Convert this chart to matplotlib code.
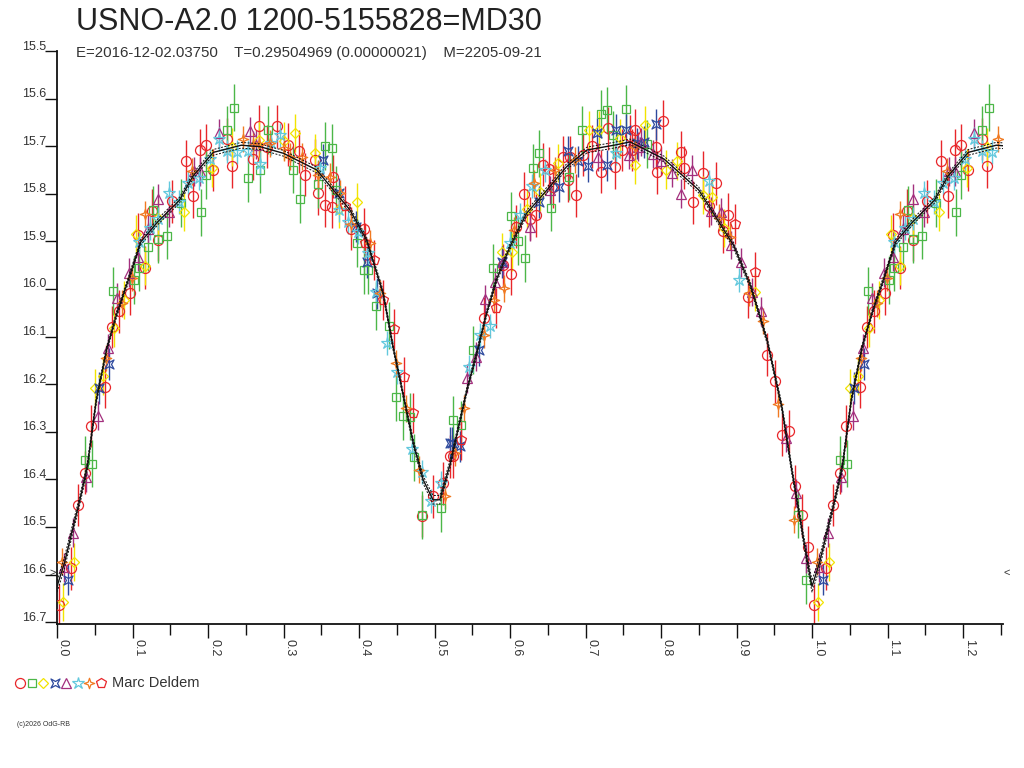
import numpy as np
import matplotlib
matplotlib.use("Agg")
import matplotlib.pyplot as plt
from matplotlib.path import Path
from matplotlib.lines import Line2D
from matplotlib import transforms

plt.rcParams['font.family'] = ['Liberation Sans', 'DejaVu Sans']

TITLE = "USNO-A2.0 1200-5155828=MD30"
SUBTITLE = "E=2016-12-02.03750    T=0.29504969 (0.00000021)    M=2205-09-21"
OBSERVER = "Marc Deldem"
COPYRIGHT = "(c)2026 OdG-RB"

ytick_values = [15.5, 15.6, 15.7, 15.8, 15.9, 16.0, 16.1, 16.2, 16.3, 16.4, 16.5, 16.6, 16.7]
ytick_labels = ["15.5", "15.6", "15.7", "15.8", "15.9", "16.0", "16.1", "16.2", "16.3", "16.4", "16.5", "16.6", "16.7"]
xtick_values = [0.0, 0.1, 0.2, 0.3, 0.4, 0.5, 0.6, 0.7, 0.8, 0.9, 1.0, 1.1, 1.2]
xtick_labels = ["0.0", "0.1", "0.2", "0.3", "0.4", "0.5", "0.6", "0.7", "0.8", "0.9", "1.0", "1.1", "1.2"]
xminor_values = [0.05, 0.15, 0.25, 0.35, 0.45, 0.55, 0.65, 0.75, 0.85, 0.95, 1.05, 1.15, 1.25]

# fitted light curve (phase, magnitude) and its band half-width
model_ph = [0, 0.01, 0.02, 0.03, 0.04, 0.052, 0.066, 0.079, 0.093, 0.111, 0.134, 0.162, 0.18, 0.207,
            0.244, 0.269, 0.3, 0.344, 0.388, 0.41, 0.432, 0.445, 0.459, 0.472, 0.485, 0.498, 0.507,
            0.521, 0.534, 0.543, 0.556, 0.569, 0.582, 0.6, 0.622, 0.649, 0.675, 0.702, 0.741, 0.759,
            0.804, 0.85, 0.896, 0.919, 0.941, 0.96, 0.973, 0.985, 0.993, 1.0]
model_mag = [16.625, 16.575, 16.509, 16.445, 16.375, 16.234, 16.125, 16.053, 15.988, 15.901, 15.858,
             15.814, 15.763, 15.713, 15.698, 15.701, 15.715, 15.75, 15.834, 15.897, 16.009, 16.121,
             16.226, 16.324, 16.401, 16.443, 16.443, 16.366, 16.275, 16.212, 16.135, 16.051, 15.981,
             15.911, 15.841, 15.792, 15.743, 15.708, 15.697, 15.691, 15.727, 15.792, 15.908, 15.995,
             16.111, 16.248, 16.378, 16.49, 16.565, 16.625]
model_band = [0.012, 0.012, 0.01, 0.009, 0.008, 0.007, 0.006, 0.006, 0.006, 0.006, 0.006, 0.006, 0.006,
              0.006, 0.006, 0.006, 0.006, 0.006, 0.006, 0.006, 0.006, 0.006, 0.006, 0.007, 0.008, 0.009,
              0.009, 0.008, 0.007, 0.006, 0.006, 0.006, 0.006, 0.006, 0.006, 0.006, 0.006, 0.006, 0.006,
              0.006, 0.006, 0.006, 0.006, 0.006, 0.006, 0.007, 0.008, 0.009, 0.011, 0.012]

# red circles
circ_ph = [0.002, 0.018, 0.028, 0.037, 0.045, 0.064, 0.073, 0.082, 0.097, 0.117, 0.107, 0.134, 0.126,
           0.152, 0.180, 0.171, 0.189, 0.197, 0.206, 0.232, 0.260, 0.225,
           0.268, 0.291, 0.278, 0.306, 0.320, 0.328, 0.346, 0.355, 0.364, 0.366, 0.342, 0.406, 0.390,
           0.498, 0.484, 0.511, 0.521, 0.525, 0.565, 0.591, 0.601, 0.608, 0.618, 0.626, 0.635, 0.644,
           0.652, 0.657, 0.670, 0.677, 0.687, 0.679, 0.697, 0.708, 0.721, 0.730, 0.739, 0.749, 0.759,
           0.766, 0.761, 0.802, 0.795, 0.793, 0.827, 0.830, 0.843, 0.855, 0.873, 0.864, 0.889, 0.882,
           0.915, 0.941, 0.951, 0.960, 0.969, 0.978, 0.987, 0.995]
circ_mag = [16.664, 16.587, 16.454, 16.386, 16.288, 16.205, 16.080, 16.047, 16.009, 15.955, 15.886, 15.897,
            15.836, 15.816, 15.805, 15.731, 15.709, 15.698, 15.750, 15.742, 15.727, 15.685,
            15.658, 15.658, 15.701, 15.697, 15.711, 15.760, 15.799, 15.824, 15.827, 15.764, 15.729, 15.875,
            15.873, 16.436, 16.477, 16.408, 16.352, 16.352, 16.062, 15.950, 15.968, 15.869, 15.800, 15.852,
            15.845, 15.739, 15.747, 15.785, 15.723, 15.772, 15.803, 15.723, 15.718, 15.700, 15.754, 15.662,
            15.744, 15.708, 15.679, 15.667, 15.708, 15.648, 15.755, 15.702, 15.713, 15.745, 15.818, 15.756,
            15.778, 15.825, 15.844, 15.879, 16.017, 16.138, 16.194, 16.306, 16.299, 16.415, 16.476, 16.543]
circ_err = 0.045

# red pentagons
pent_ph = [0.381, 0.408, 0.420, 0.432, 0.446, 0.459, 0.471, 0.535, 0.581, 0.898, 0.924]
pent_mag = [15.826, 15.904, 15.939, 16.023, 16.085, 16.186, 16.260, 16.317, 16.041, 15.863, 15.964]
pent_err = 0.042

# green squares
sq_ph = [0.235, 0.225, 0.253, 0.269, 0.191, 0.198, 0.146, 0.134, 0.127, 0.120, 0.109, 0.102, 0.074,
         0.037, 0.047, 0.164, 0.313, 0.322, 0.355, 0.364, 0.280, 0.346, 0.370, 0.397, 0.406, 0.412,
         0.422, 0.440, 0.449, 0.458, 0.467, 0.473, 0.484, 0.508, 0.525, 0.535, 0.551, 0.577, 0.601,
         0.611, 0.620, 0.630, 0.638, 0.654, 0.678, 0.696, 0.721, 0.729, 0.754, 0.737, 0.781, 0.992, 0.982]
sq_mag = [15.619, 15.666, 15.767, 15.749, 15.839, 15.760, 15.888, 15.895, 15.834, 15.912, 15.955, 15.981,
          16.004, 16.360, 16.367, 15.819, 15.749, 15.812, 15.699, 15.703, 15.666, 15.780, 15.792, 15.904,
          15.961, 15.961, 16.036, 16.077, 16.228, 16.267, 16.268, 16.354, 16.475, 16.461, 16.275, 16.286,
          16.128, 15.955, 15.847, 15.899, 15.936, 15.745, 15.715, 15.829, 15.764, 15.666, 15.632, 15.625,
          15.622, 15.676, 15.695, 16.611, 16.474]
sq_err = 0.05

# yellow diamonds
dia_ph = [0.008, 0.022, 0.050, 0.061, 0.075, 0.089, 0.105, 0.117, 0.168, 0.134, 0.205, 0.232, 0.267,
          0.315, 0.300, 0.342, 0.398, 0.373, 0.590, 0.603, 0.623, 0.640, 0.664, 0.704, 0.718, 0.746,
          0.766, 0.779, 0.807, 0.821, 0.855, 0.868, 0.884, 0.924]
dia_mag = [16.657, 16.573, 16.208, 16.183, 16.082, 16.024, 15.885, 15.952, 15.839, 15.850, 15.745, 15.702,
           15.688, 15.673, 15.690, 15.715, 15.817, 15.831, 15.922, 15.922, 15.831, 15.796, 15.736, 15.666,
           15.666, 15.683, 15.740, 15.655, 15.749, 15.731, 15.803, 15.807, 15.872, 16.006]
dia_err = 0.04

# blue concave squares
bsq_ph = [0.015, 0.056, 0.069, 0.352, 0.374, 0.396, 0.410, 0.424, 0.520, 0.523, 0.534, 0.559, 0.590,
          0.639, 0.665, 0.677, 0.690, 0.703, 0.715, 0.728, 0.740, 0.754, 0.768, 0.793, 0.777]
bsq_mag = [16.611, 16.208, 16.158, 15.729, 15.799, 15.869, 15.943, 16.009, 16.324, 16.324, 16.331, 16.128,
           15.943, 15.817, 15.785, 15.711, 15.732, 15.742, 15.673, 15.740, 15.666, 15.666, 15.694, 15.654,
           15.691]
bsq_err = 0.033

# purple triangles
tri_ph = [0.009, 0.021, 0.038, 0.054, 0.068, 0.079, 0.095, 0.107, 0.121, 0.134, 0.148, 0.182, 0.189,
          0.215, 0.256, 0.264, 0.543, 0.555, 0.567, 0.580, 0.591, 0.626, 0.653, 0.716, 0.758, 0.770,
          0.773, 0.789, 0.800, 0.814, 0.827, 0.841, 0.866, 0.880, 0.893, 0.906, 0.921, 0.933, 0.966,
          0.979, 0.992]
tri_mag = [16.585, 16.512, 16.396, 16.266, 16.125, 16.018, 15.966, 15.933, 15.873, 15.810, 15.839, 15.753,
           15.753, 15.673, 15.669, 15.697, 16.188, 16.142, 16.022, 15.985, 15.943, 15.869, 15.792, 15.723,
           15.718, 15.701, 15.691, 15.716, 15.731, 15.756, 15.800, 15.749, 15.836, 15.839, 15.908, 15.944,
           16.006, 16.047, 16.313, 16.429, 16.566]
tri_err = 0.03

# cyan stars
star_ph = [0.215, 0.202, 0.188, 0.174, 0.149, 0.162, 0.134, 0.123, 0.109, 0.225, 0.239, 0.253, 0.269,
           0.295, 0.284, 0.348, 0.373, 0.386, 0.399, 0.412, 0.423, 0.437, 0.450, 0.470, 0.483, 0.496,
           0.509, 0.574, 0.560, 0.546, 0.600, 0.613, 0.629, 0.646, 0.741, 0.863, 0.903]
star_mag = [15.685, 15.727, 15.767, 15.778, 15.798, 15.818, 15.852, 15.872, 15.901, 15.711, 15.713, 15.711,
            15.737, 15.676, 15.693, 15.746, 15.834, 15.859, 15.880, 15.925, 16.006, 16.114, 16.174, 16.337,
            16.384, 16.445, 16.407, 16.078, 16.097, 16.163, 15.904, 15.845, 15.784, 15.751, 15.715, 15.774,
            15.982]
star_err = 0.025

# orange four-point stars
cross_ph = [0.006, 0.065, 0.086, 0.099, 0.117, 0.179, 0.246, 0.267, 0.260, 0.282, 0.300, 0.309, 0.324,
            0.346, 0.362, 0.375, 0.390, 0.415, 0.428, 0.449, 0.462, 0.479, 0.514, 0.527, 0.539, 0.565,
            0.579, 0.592, 0.605, 0.632, 0.660, 0.686, 0.766, 0.877, 0.892, 0.916, 0.935, 0.955, 0.976]
cross_mag = [16.573, 16.145, 16.030, 15.977, 15.843, 15.753, 15.685, 15.695, 15.697, 15.694, 15.704, 15.722,
             15.722, 15.760, 15.764, 15.799, 15.863, 15.904, 16.009, 16.156, 16.251, 16.380, 16.435, 16.344,
             16.251, 16.097, 16.023, 15.999, 15.876, 15.778, 15.750, 15.729, 15.701, 15.850, 15.890, 16.008,
             16.067, 16.241, 16.485]
cross_err = 0.028

# custom marker shapes
concave_sq = Path([(-1, -1), (0, -0.45), (1, -1), (0.45, 0), (1, 1), (0, 0.45), (-1, 1), (-0.45, 0), (-1, -1)],
                  [Path.MOVETO] + [Path.LINETO] * 7 + [Path.CLOSEPOLY])
four_star = Path([(0, 1), (0.25, 0.25), (1, 0), (0.25, -0.25), (0, -1), (-0.25, -0.25), (-1, 0), (-0.25, 0.25), (0, 1)],
                 [Path.MOVETO] + [Path.LINETO] * 7 + [Path.CLOSEPOLY])

RED = '#e8262a'
series = [
    (circ_ph, circ_mag, circ_err, 'o', 7.2, RED),
    (sq_ph, sq_mag, sq_err, 's', 5.2, '#4cb748'),
    (dia_ph, dia_mag, dia_err, 'D', 5.6, '#f2e400'),
    (bsq_ph, bsq_mag, bsq_err, concave_sq, 6.5, '#2e4a9e'),
    (tri_ph, tri_mag, tri_err, '^', 6.8, '#a3307e'),
    (star_ph, star_mag, star_err, '*', 9.0, '#62c8dd'),
    (cross_ph, cross_mag, cross_err, four_star, 7.5, '#f07a22'),
    (pent_ph, pent_mag, pent_err, 'p', 7.5, RED),
]

W, H = 1024, 768
fig = plt.figure(figsize=(W / 100, H / 100), dpi=100)
ax = fig.add_axes([57 / W, 1 - 624 / H, (1003 - 57) / W, (624 - 51) / H])

XMAX = 946 / 755
ax.set_xlim(0, XMAX)
ax.set_ylim(16.704, 15.5)

for ph, mag, err, mk, ms, col in series:
    x = list(ph) + [p + 1 for p in ph if p <= XMAX - 1]
    y = list(mag) + [m for p, m in zip(ph, mag) if p <= XMAX - 1]
    ax.errorbar(x, y, yerr=err, fmt='none', ecolor=col, elinewidth=1.0, capsize=0, zorder=2)
    ax.plot(x, y, linestyle='none', marker=mk, ms=ms, mfc='none', mec=col, mew=0.9, zorder=3)

# model curve over 0..1.25
mx = list(model_ph) + [p + 1 for p in model_ph[1:] if p <= XMAX - 1 + 0.03]
my = list(model_mag) + [m for p, m in zip(model_ph[1:], model_mag[1:]) if p <= XMAX - 1 + 0.03]
mb = list(model_band) + [b for p, b in zip(model_ph[1:], model_band[1:]) if p <= XMAX - 1 + 0.03]
mx = np.array(mx); my = np.array(my); mb = np.array(mb)
ax.plot(mx, my, color='#111111', lw=1.0, zorder=5, clip_on=True)
ax.plot(mx, my - mb, color='#111111', lw=0.7, ls=(0, (2, 1.5)), zorder=5)
ax.plot(mx, my + mb, color='#111111', lw=0.7, ls=(0, (2, 1.5)), zorder=5)

for s in ['top', 'right']:
    ax.spines[s].set_visible(False)
for s in ['left', 'bottom']:
    ax.spines[s].set_linewidth(1.3)
    ax.spines[s].set_color('#111111')

ax.set_xticks(xtick_values)
ax.set_xticks(xminor_values, minor=True)
ax.set_xticklabels(xtick_labels, rotation=-90, ha='left', va='top', fontsize=9, color='#333333')
ax.tick_params(axis='x', which='major', length=10, width=1, direction='out', pad=1, color='#111111')
ax.tick_params(axis='x', which='minor', length=8, width=1, direction='out', color='#111111')

ax.set_yticks(ytick_values)
ax.tick_params(axis='y', which='major', length=9, width=1, direction='out', labelleft=False, color='#111111')
ylab_tr = transforms.offset_copy(ax.get_yaxis_transform(), fig=fig, x=-11, y=1.5, units='dots')
for v, lab in zip(ytick_values, ytick_labels):
    ax.text(0, v, lab, transform=ylab_tr, ha='right', va='baseline', fontsize=9, color='#333333', clip_on=False)

# range arrows
ax.text(0, 16.597, '>', transform=transforms.offset_copy(ax.get_yaxis_transform(), fig=fig, x=-1, y=0, units='dots'),
        ha='right', va='center', fontsize=8, color='#333333', clip_on=False)
ax.text(1, 16.597, '<', transform=transforms.offset_copy(ax.get_yaxis_transform(), fig=fig, x=1, y=0, units='dots'),
        ha='left', va='center', fontsize=8, color='#333333', clip_on=False)

fig.text(76 / W, 1 - 30 / H, TITLE, fontsize=22, color='#222222', ha='left', va='baseline')
fig.text(76 / W, 1 - 57 / H, SUBTITLE, fontsize=10.8, color='#333333', ha='left', va='baseline')

# observer legend
leg_x = [20, 32, 43, 55, 66, 78, 89, 101]
leg_y = 1 - 683 / H
for xp, (ph, mag, err, mk, ms, col) in zip(leg_x, series):
    fig.add_artist(Line2D([xp / W], [leg_y], transform=fig.transFigure, linestyle='none', marker=mk,
                          ms=ms, mfc='none', mec=col, mew=0.9))
fig.text(112 / W, leg_y, OBSERVER, fontsize=10.5, color='#333333', ha='left', va='center')
fig.text(17 / W, 1 - 724 / H, COPYRIGHT, fontsize=5, color='#333333', ha='left', va='center')

fig.savefig('out.png', dpi=100)
